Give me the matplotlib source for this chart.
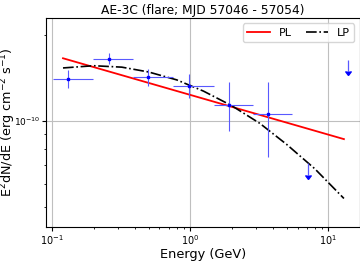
import numpy as np
import matplotlib
matplotlib.use("Agg")
import matplotlib.pyplot as plt
from matplotlib.ticker import NullFormatter

# SED points (GeV, erg cm-2 s-1)
energy = [0.131, 0.259, 0.497, 0.984, 1.92, 3.67]
e_lo = [0.1017, 0.198, 0.383, 0.755, 1.48, 2.85]
e_hi = [0.198, 0.383, 0.755, 1.48, 2.85, 5.50]
flux = [1.40e-10, 1.65e-10, 1.43e-10, 1.33e-10, 1.14e-10, 1.06e-10]
flux_lo = [1.31e-10, 1.58e-10, 1.33e-10, 1.20e-10, 9.2e-11, 7.5e-11]
flux_hi = [1.51e-10, 1.73e-10, 1.52e-10, 1.46e-10, 1.37e-10, 1.37e-10]

# upper limits
ul_energy = [7.16, 13.97]
ul_flux = [7.12e-11, 1.64e-10]

# model curves
pl_energy = [0.12, 13.0]
pl_flux = [1.66e-10, 8.64e-11]
lp_energy = [0.12, 0.2, 0.32, 0.5, 0.8, 1.25, 2.0, 3.2, 5.0, 8.0, 13.0]
lp_flux = [1.535e-10, 1.563e-10, 1.545e-10, 1.486e-10, 1.394e-10, 1.273e-10,
           1.132e-10, 9.81e-11, 8.28e-11, 6.80e-11, 5.35e-11]

energy = np.array(energy)
flux = np.array(flux)
xerr = [energy - np.array(e_lo), np.array(e_hi) - energy]
yerr = [flux - np.array(flux_lo), np.array(flux_hi) - flux]
err_col = (0.35, 0.35, 1.0)

fig = plt.figure(figsize=(3.6, 2.63), dpi=100)
ax = fig.add_axes([0.128, 0.137, 0.872, 0.795])

ax.plot(pl_energy, pl_flux, color="red", lw=1.3, label="PL")
ax.plot(lp_energy, lp_flux, color="black", lw=1.2, ls="-.", label="LP")

ax.errorbar(energy, flux, xerr=xerr, yerr=yerr, fmt="s", color="b", ms=1.6,
            ecolor=err_col, elinewidth=0.8, capsize=0)

# upper limit arrows
ul_low = 0.91 * np.array(ul_flux)
ax.vlines(ul_energy, ul_low, ul_flux, color=err_col, lw=0.9)
ax.plot(ul_energy, ul_low, ls="none", marker=11, ms=4, color="b")

ax.set_xscale("log")
ax.set_yscale("log")
ax.set_xlim(0.0905, 17.0)
ax.set_ylim(4.25e-11, 2.3e-10)
ax.yaxis.set_minor_formatter(NullFormatter())
ax.xaxis.set_minor_formatter(NullFormatter())

ax.grid(True, which="major", color="0.75", lw=0.8)
ax.set_axisbelow(True)

ax.set_title("AE-3C (flare; MJD 57046 - 57054)", fontsize=8.8, pad=3)
ax.set_xlabel("Energy (GeV)", fontsize=9.3, labelpad=1)
ax.set_ylabel("E$^2$dN/dE (erg cm$^{-2}$ s$^{-1}$)", fontsize=9.2)
ax.yaxis.set_label_coords(-0.09, 0.5)
ax.tick_params(labelsize=7, pad=1.5)
ax.tick_params(axis="y", labelsize=6.5, pad=1)
ax.tick_params(which="major", length=3)
ax.tick_params(which="minor", length=1.5)

ax.legend(loc="upper right", ncol=2, fontsize=8, handlelength=2.0,
          columnspacing=1.3, borderpad=0.4, borderaxespad=0.5)

fig.savefig("out.png", dpi=100)
